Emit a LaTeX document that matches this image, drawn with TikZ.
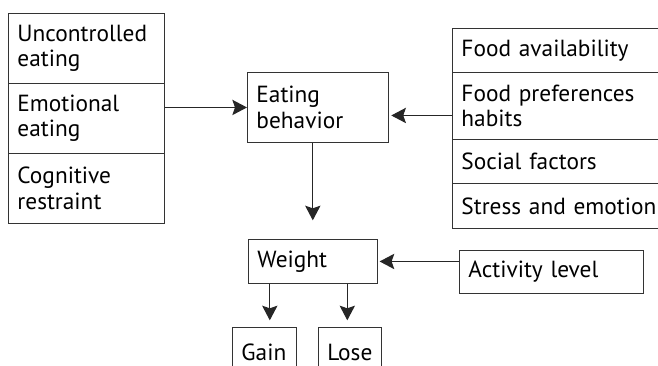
\documentclass[tikz,border=0pt]{standalone}
\usepackage{fontspec}
\setmainfont{PT Sans}
\usetikzlibrary{arrows.meta}
\tikzstyle{cell}=[draw=black!80,line width=0.7pt,anchor=north west,align=left,inner xsep=6.75pt,inner ysep=0pt,font=\fontsize{17.5}{19}\selectfont]
\tikzstyle{arrow}=[draw=black!85,line width=0.9pt,-{Stealth[length=11pt,width=11.5pt,inset=2pt]}]

\begin{document}
\begin{tikzpicture}[x=0.75pt,y=-0.75pt]
    \useasboundingbox (0,0) rectangle (658,366);
    \clip (0,0) rectangle (658,366);
    % Left stack: eating traits
    \foreach \pos/\name/\txt in {{(8,13)/UE/{Uncontrolled\\eating}}, {(8,83)/EE/{Emotional\\eating}}, {(8,153)/CR/{Cognitive\\restraint}}}
        \node[cell,text width=103.5pt,minimum height=52.5pt] (\name) at \pos {\txt};
    % Right stack: outside factors
    \foreach \pos/\hgt/\name/\txt in {{(452,28)/33pt/FA/{Food availability}}, {(452,72)/50.25pt/FP/{Food preferences\\habits}}, {(452,139)/33pt/SF/{Social factors}}, {(452,183)/33.75pt/SE/{Stress and emotion}}}
        \node[cell,text width=170pt,minimum height=\hgt] (\name) at \pos {\txt};
    % Middle column
    \node[cell,text width=92pt,minimum height=52.5pt] (EB) at (247,72) {Eating\\behavior};
    \node[cell,text width=83pt,minimum height=33pt] (W) at (248,239) {Weight};
    \node[cell,text width=124.5pt,minimum height=32.25pt] (AL) at (459,250) {Activity level};
    \node[cell,text width=34.5pt,minimum height=38pt] (G) at (232,327) {Gain};
    \node[cell,text width=33.75pt,minimum height=38pt] (L) at (318,327) {Lose};
    % Connect boxes with arrows
    \path ([yshift=-6pt]EB.east) coordinate (EBin);
    \path[arrow] (EB.west -| EE.east) -- (EB.west);
    \path[arrow,shorten >=2pt] (EBin -| FP.west) -- (EBin);
    \path[arrow,shorten >=14pt] (W.north |- EB.south) -- (W.north);
    \path[arrow,shorten >=1.5pt] (W.east -| AL.west) -- (W.east);
    \path[arrow,shorten >=5pt] ([xshift=4pt]G.north |- W.south) -- ([xshift=4pt]G.north);
    \path[arrow,shorten >=5pt] ([xshift=-2pt]L.north |- W.south) -- ([xshift=-2pt]L.north);
\end{tikzpicture}
\end{document}
